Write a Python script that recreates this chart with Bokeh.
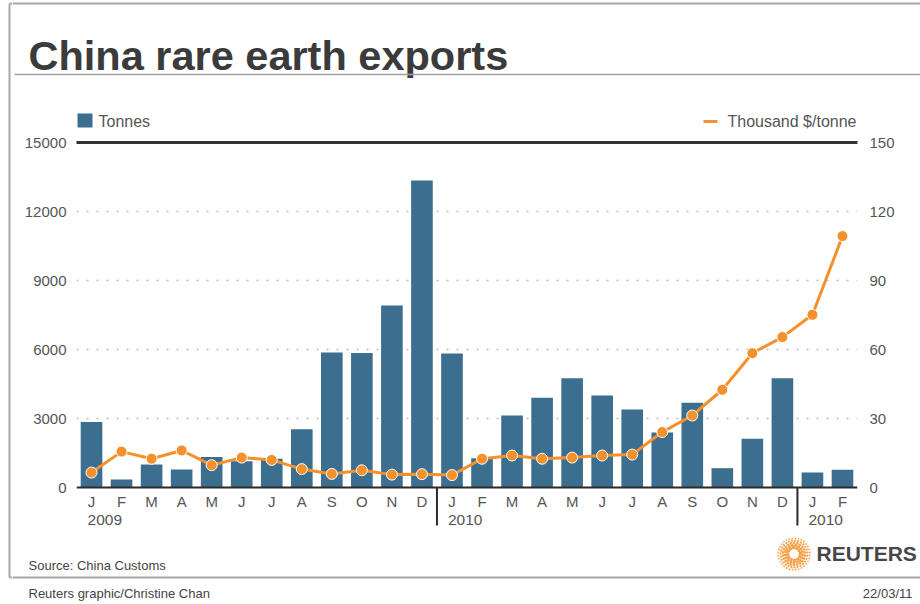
import numpy as np
from bokeh.plotting import figure
from bokeh.models import Range1d, LinearAxis, FixedTicker, Grid
from bokeh.layouts import row, column
from bokeh.embed import file_html
from bokeh.resources import INLINE
from bokeh.core.properties import value

# ---------------- data ----------------
months = ["J", "F", "M", "A", "M", "J", "J", "A", "S", "O", "N", "D",
          "J", "F", "M", "A", "M", "J", "J", "A", "S", "O", "N", "D",
          "J", "F"]
year_labels = ["2009", "2010", "2010"]
year_starts = [0, 12, 24]
tonnes = [2850, 350, 1000, 780, 1330, 1140, 1250, 2530, 5870, 5850, 7910, 13350,
          5830, 1270, 3130, 3900, 4750, 4000, 3390, 2390, 3680, 840, 2120, 4750,
          650, 770]
price = [6.5, 15.6, 12.5, 16.1, 9.7, 13.0, 12.0, 8.0, 5.9, 7.5, 5.6, 5.8,
         5.4, 12.5, 13.9, 12.5, 13.0, 13.9, 14.3, 24.1, 31.3, 42.5, 58.4, 65.4,
         75.1, 109.3]
left_ticks = [0, 3000, 6000, 9000, 12000, 15000]
right_ticks = [0, 30, 60, 90, 120, 150]
grid_ticks = [3000, 6000, 9000, 12000]

title = "China rare earth exports"
legend_bar = "Tonnes"
legend_line = "Thousand $/tonne"
source = "Source: China Customs"
credit = "Reuters graphic/Christine Chan"
date = "22/03/11"

# ---------------- style ----------------
BLUE = "#3c6e90"
ORANGE = "#f5912c"
TXT = "#555555"
DARK = "#2b2b2b"
FRAME = "#a8a8a8"
FONT = "Liberation Sans"

W, H = 920, 604
STRIP = 12
TOP_H = 131
CHART_BOTTOM = 532
FL, FR, FT, FB = 76, 857, 142, 487
N = len(months)
xs = list(range(N))
Y_MAX, P_MAX = left_ticks[-1], right_ticks[-1]
PX = Y_MAX / (FB - FT)          # data units per pixel (left axis)
Y_MIN = -(CHART_BOTTOM - FB) * PX
P_MIN = Y_MIN * P_MAX / Y_MAX


def deco_fig(x0, x1, y0, y1):
    f = figure(width=x1 - x0, height=y1 - y0,
               x_range=Range1d(x0, x1), y_range=Range1d(y1, y0),
               output_backend="svg", toolbar_location=None, tools="",
               min_border=0, x_axis_location=None, y_axis_location=None,
               outline_line_color=None, background_fill_color="white",
               border_fill_color="white", frame_align=False)
    for g in f.grid:
        g.visible = False
    return f


# ---------------- left strip (outer frame line) ----------------
S = deco_fig(0, STRIP, 0, H)
S.line([9, 9], [3, 577], line_color=FRAME, line_width=2)
S.line([9, STRIP], [3, 3], line_color=FRAME, line_width=2)
S.line([9, STRIP], [577, 577], line_color=FRAME, line_width=2)

# ---------------- header ----------------
Hd = deco_fig(STRIP, W, 0, TOP_H)
Hd.line([STRIP, W], [3, 3], line_color=FRAME, line_width=2)
Hd.text(x=[28], y=[55], text=[title], text_font=value(FONT),
        text_font_style="bold", text_font_size="41.5px", text_color="#3b3b3b",
        text_baseline="alphabetic", text_align="left")
Hd.line([14, W], [74, 74], line_color="#a0a0a0", line_width=1.5)
Hd.quad(left=[77], right=[92], top=[113], bottom=[127], fill_color=BLUE,
        line_color=None)
Hd.text(x=[98], y=[121], text=[legend_bar], text_font=value(FONT),
        text_font_size="16px", text_color=TXT, text_baseline="middle")
Hd.line([703, 717], [121, 121], line_color=ORANGE, line_width=3)
Hd.text(x=[727], y=[121], text=[legend_line], text_font=value(FONT),
        text_font_size="16px", text_color=TXT, text_baseline="middle")

# ---------------- chart ----------------
C = figure(width=W - STRIP, height=CHART_BOTTOM - TOP_H,
           x_range=Range1d(-0.5, N - 0.5), y_range=Range1d(Y_MIN, Y_MAX),
           min_border_left=FL - STRIP, min_border_right=W - FR,
           min_border_top=FT - TOP_H, min_border_bottom=0,
           output_backend="svg", toolbar_location=None, tools="",
           x_axis_location=None, y_axis_location=None,
           outline_line_color=None, background_fill_color="white",
           border_fill_color="white", frame_align=False)
for g in C.grid:
    g.visible = False
C.extra_y_ranges = {"price": Range1d(P_MIN, P_MAX)}

C.add_layout(Grid(dimension=1, ticker=FixedTicker(ticks=grid_ticks),
                  grid_line_color="#bdbdbd", grid_line_width=1.6,
                  grid_line_dash="2 8"))

C.vbar(x=xs, top=tonnes, width=0.72, fill_color=BLUE, line_color=None)
C.line(xs, price, y_range_name="price", line_color=ORANGE, line_width=3)
C.scatter(xs, price, y_range_name="price", size=11, fill_color=ORANGE,
          line_color="white", line_width=1)

# year separators and year labels below the month letters
sep = [s - 0.5 for s in year_starts[1:]]
C.segment(x0=sep, x1=sep, y0=[0] * len(sep), y1=[-(525 - FB) * PX] * len(sep),
          line_color=DARK, line_width=2)
C.text(x=year_starts, y=[-(519 - FB) * PX] * len(year_starts), text=year_labels,
       x_offset=-4, text_font=value(FONT), text_font_size="15.5px",
       text_color=TXT, text_baseline="middle", text_align="left")

xaxis = LinearAxis(ticker=FixedTicker(ticks=xs), fixed_location=0,
                   major_label_overrides={i: m for i, m in enumerate(months)},
                   axis_line_color=DARK, axis_line_width=2,
                   major_tick_line_color=None, major_tick_out=0, major_tick_in=0,
                   minor_tick_line_color=None,
                   major_label_standoff=5,
                   major_label_text_font=FONT, major_label_text_font_size="15px",
                   major_label_text_color=TXT)
C.add_layout(xaxis, "below")

topaxis = LinearAxis(ticker=FixedTicker(ticks=[]), axis_line_color="#333333",
                     axis_line_width=3, major_tick_line_color=None,
                     minor_tick_line_color=None, major_label_text_font_size="0px")
C.add_layout(topaxis, "above")

yleft = LinearAxis(ticker=FixedTicker(ticks=left_ticks), axis_line_color=None,
                   major_tick_line_color=None, minor_tick_line_color=None,
                   major_tick_out=0, major_label_standoff=10,
                   major_label_text_font=FONT, major_label_text_font_size="15px",
                   major_label_text_color=TXT)
C.add_layout(yleft, "left")

yright = LinearAxis(y_range_name="price", ticker=FixedTicker(ticks=right_ticks),
                    axis_line_color=None, major_tick_line_color=None,
                    minor_tick_line_color=None, major_tick_out=0,
                    major_label_standoff=12,
                    major_label_text_font=FONT, major_label_text_font_size="15px",
                    major_label_text_color=TXT)
C.add_layout(yright, "right")

# ---------------- footer ----------------
Ft = deco_fig(STRIP, W, CHART_BOTTOM, H)
Ft.text(x=[28], y=[565], text=[source], text_font=value(FONT),
        text_font_size="13px", text_color="#444444", text_baseline="middle")

# Reuters logo (dotted ring) + wordmark
cx, cy = 793.5, 553.5
lx, ly, ls = [], [], []
for r, n, sz in [(6.2, 12, 3.4), (8.6, 17, 3.1), (11.0, 22, 2.7),
                 (13.4, 27, 2.3), (15.8, 32, 1.8)]:
    for k in range(n):
        a = 2 * np.pi * k / n + r
        lx.append(cx + r * np.cos(a))
        ly.append(cy + r * np.sin(a))
        ls.append(sz)
Ft.scatter(lx, ly, size=ls, fill_color="#f39a3c", line_color=None, alpha=0.9)
Ft.text(x=[816], y=[553], text=["REUTERS"], text_font=value(FONT),
        text_font_style="bold", text_font_size="21px", text_color="#474747",
        text_baseline="middle")

Ft.line([STRIP, W], [577, 577], line_color=FRAME, line_width=2)
Ft.text(x=[28], y=[593], text=[credit], text_font=value(FONT),
        text_font_size="13px", text_color="#444444", text_baseline="middle")
Ft.text(x=[912], y=[593], text=[date], text_font=value(FONT),
        text_font_size="13px", text_color="#444444", text_baseline="middle",
        text_align="right")

layout = row(S, column(Hd, C, Ft))
open("out.html", "w").write(file_html(layout, INLINE))
